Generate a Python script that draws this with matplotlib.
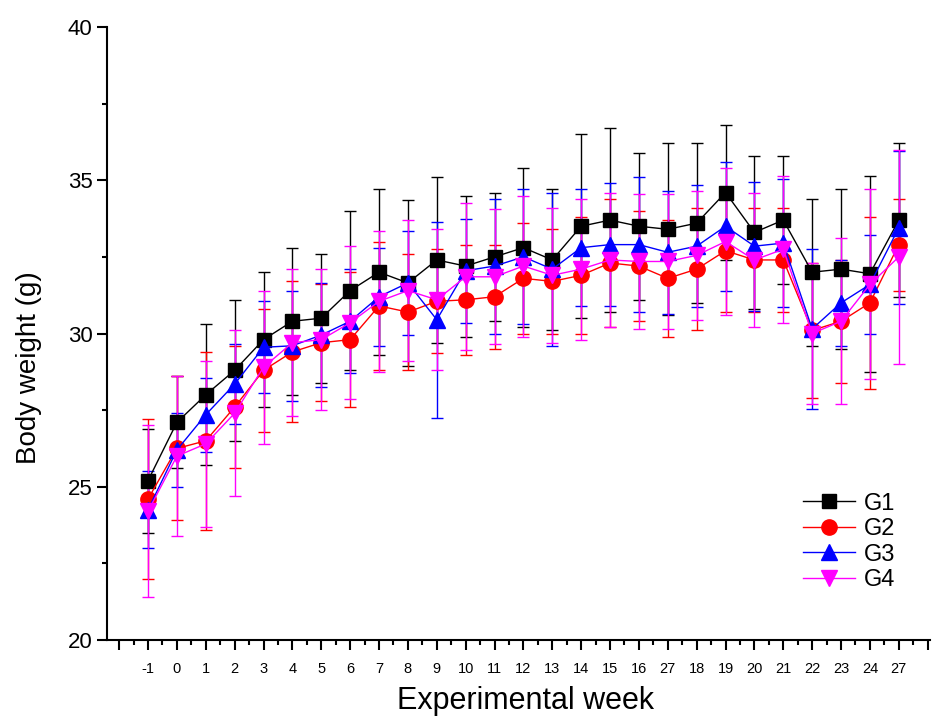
import matplotlib
matplotlib.use('Agg')
import matplotlib.pyplot as plt
from matplotlib.lines import Line2D
from matplotlib.ticker import MultipleLocator, FixedLocator

plt.rcParams['font.family'] = ['Liberation Sans', 'DejaVu Sans']

# x categories (as printed on the axis)
weeks = ['-1', '0', '1', '2', '3', '4', '5', '6', '7', '8', '9', '10', '11',
         '12', '13', '14', '15', '16', '27', '18', '19', '20', '21', '22',
         '23', '24', '27']

g1 = [25.2, 27.1, 28.0, 28.8, 29.8, 30.4, 30.5, 31.4, 32.0, 31.65, 32.4, 32.2,
      32.5, 32.8, 32.4, 33.5, 33.7, 33.5, 33.4, 33.6, 34.6, 33.3, 33.7, 32.0,
      32.1, 31.95, 33.7]
g1_err = [1.7, 1.5, 2.3, 2.3, 2.2, 2.4, 2.1, 2.6, 2.7, 2.7, 2.7, 2.3, 2.1, 2.6,
          2.3, 3.0, 3.0, 2.4, 2.8, 2.6, 2.2, 2.5, 2.1, 2.4, 2.6, 3.2, 2.5]

g2 = [24.6, 26.25, 26.5, 27.6, 28.8, 29.4, 29.7, 29.8, 30.9, 30.7, 31.05, 31.1,
      31.2, 31.8, 31.7, 31.9, 32.3, 32.2, 31.8, 32.1, 32.7, 32.4, 32.4, 30.1,
      30.4, 31.0, 32.9]
g2_err = [2.6, 2.35, 2.9, 2.0, 2.0, 2.3, 1.9, 2.2, 2.1, 1.9, 1.7, 1.8, 1.7, 1.8,
          1.7, 1.9, 2.1, 1.8, 1.9, 2.0, 2.0, 1.7, 1.7, 2.2, 2.0, 2.8, 1.5]

g3 = [24.25, 26.2, 27.35, 28.35, 29.55, 29.6, 29.95, 30.4, 31.2, 31.65, 30.45,
      32.05, 32.2, 32.5, 32.1, 32.8, 32.9, 32.9, 32.65, 32.85, 33.5, 32.85,
      32.95, 30.15, 31.0, 31.6, 33.45]
g3_err = [1.25, 1.2, 1.2, 1.3, 1.5, 1.8, 1.7, 1.7, 1.6, 1.7, 3.2, 1.7, 2.2, 2.2,
          2.5, 1.9, 2.0, 2.2, 2.0, 2.0, 2.1, 2.1, 2.1, 2.6, 1.4, 1.6, 2.5]

g4 = [24.2, 26.0, 26.4, 27.4, 28.9, 29.7, 29.8, 30.35, 31.05, 31.4, 31.1, 31.85,
      31.85, 32.2, 31.9, 32.1, 32.4, 32.35, 32.35, 32.55, 33.0, 32.4, 32.75,
      30.0, 30.4, 31.6, 32.5]
g4_err = [2.8, 2.6, 2.7, 2.7, 2.5, 2.4, 2.3, 2.5, 2.3, 2.3, 2.3, 2.4, 2.2, 2.3,
          2.2, 2.3, 2.2, 2.2, 2.2, 2.1, 2.4, 2.2, 2.4, 2.3, 2.7, 3.1, 3.5]

groups = [
    ('G1', g1, g1_err, 'black', 's', 10),
    ('G2', g2, g2_err, '#ff0000', 'o', 11),
    ('G3', g3, g3_err, '#0000ff', '^', 12),
    ('G4', g4, g4_err, '#ff00ff', 'v', 12),
]

fig = plt.figure(figsize=(9.37, 7.18), dpi=100)
ax = fig.add_axes([0.1142, 0.1086, 0.8783, 0.8538])

x = list(range(len(weeks)))
handles = []
for name, vals, err, col, mk, ms in groups:
    ax.errorbar(x, vals, yerr=err, color=col, marker=mk, markersize=ms,
                linewidth=1.0, elinewidth=1.0, capsize=4, capthick=1.0)
    # legend entry without the error bar glyph
    handles.append(Line2D([], [], color=col, marker=mk, markersize=ms,
                          linewidth=1.0, label=name))

ax.set_xlim(-1.42, 27.08)
ax.set_ylim(20, 40)

# x ticks: long ticks at every integer, short ones in between
ax.xaxis.set_major_locator(FixedLocator(range(-1, 28)))
ax.xaxis.set_minor_locator(FixedLocator([i + 0.5 for i in range(-2, 28)]))
ax.set_xticklabels([''] + weeks + [''])
ax.yaxis.set_major_locator(MultipleLocator(5))
ax.yaxis.set_minor_locator(MultipleLocator(2.5))

ax.tick_params(axis='x', which='major', direction='out', length=7, width=1.5,
               labelsize=10.5, pad=9)
ax.tick_params(axis='x', which='minor', direction='out', length=3.5, width=1.5)
ax.tick_params(axis='y', which='major', direction='out', length=7, width=1.5,
               labelsize=16)
ax.tick_params(axis='y', which='minor', direction='out', length=3.5, width=1.5)

for side in ['top', 'right']:
    ax.spines[side].set_visible(False)
for side in ['left', 'bottom']:
    ax.spines[side].set_linewidth(1.5)

ax.set_xlabel('Experimental week', fontsize=22)
ax.set_ylabel('Body weight (g)', fontsize=20)
ax.xaxis.set_label_coords(0.508, -0.075)
ax.yaxis.set_label_coords(-0.079, 0.445)

ax.legend(handles=handles, loc='center left', bbox_to_anchor=(0.834, 0.16),
          borderaxespad=0, frameon=False, fontsize=17, handlelength=2.2,
          labelspacing=0.15, handletextpad=0.4)

fig.savefig('out.png', dpi=100)
